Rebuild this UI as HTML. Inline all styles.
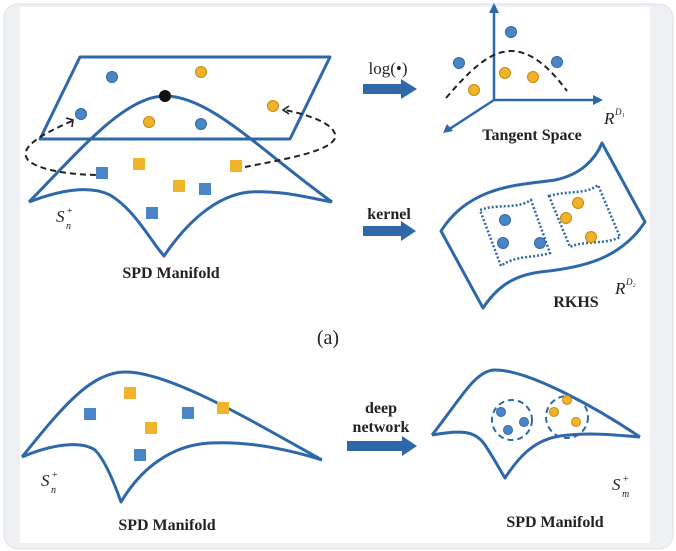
<!DOCTYPE html>
<html><head><meta charset="utf-8"><style>
html,body{margin:0;padding:0;background:#fff;}
svg{display:block;}
text{font-family:"Liberation Serif",serif;fill:#222;}
.b{font-weight:bold;font-size:16px;}
</style></head><body>
<svg width="676" height="551" viewBox="0 0 676 551" xmlns="http://www.w3.org/2000/svg">
<rect x="4" y="4" width="669" height="545" rx="14" fill="#eef0f3" stroke="#dfe2e6"/>
<rect x="20" y="7" width="630" height="536" fill="#fff"/>
<g fill="none" stroke="#2f68a8" stroke-width="3" stroke-linejoin="round">
<path d="M80,57 L330,57 L290,139 L40,139 Z"/>
<path d="M29,202 C80,150 125,96 165,96 C210,96 260,150 332,202"/>
<path d="M29,202 C60,190 90,185 110,195 C135,210 150,240 164,256 C185,225 215,195 250,192 C280,190 310,198 332,202"/>
<path d="M494,100 L494,10 M494,100 L598,100 M494,100 L448,130" stroke-width="2.5"/>
<path d="M441,231 C470,185 520,185 555,180 C580,175 595,160 602,143 L645,222 C620,260 580,268 540,272 C510,276 495,290 483,308 Z"/>
<path d="M22,457 C60,410 90,372 125,372 C170,372 250,420 322,460"/>
<path d="M22,457 C50,445 80,440 95,450 C105,460 115,485 121,502 C140,470 170,445 210,443 C250,441 290,450 322,460"/>
<path d="M432,435 C460,400 475,370 495,370 C530,370 600,410 640,437"/>
<path d="M432,435 C460,430 475,430 485,445 C495,460 500,470 505,478 C520,455 535,440 560,436 C590,432 615,435 640,437"/>
</g>
<g fill="#2f68a8">
<path d="M494,3 L489,13 L499,13 Z"/>
<path d="M603,100 L593,95 L593,105 Z"/>
<path d="M443,133 L447,124 L453,131 Z"/>
<path d="M363,84 L401,84 L401,79 L417,89 L401,99 L401,94 L363,94 Z"/>
<path d="M363,226 L401,226 L401,221 L416,231 L401,241 L401,236 L363,236 Z"/>
<path d="M347,441 L402,441 L402,436 L417,446 L402,456 L402,451 L347,451 Z"/>
</g>
<g fill="none" stroke="#222" stroke-width="2" stroke-dasharray="6,4">
<path d="M72,121 C40,135 18,148 28,160 C40,172 80,175 100,175"/>
<path d="M245,167 C280,160 330,152 335,138 C338,125 310,115 285,110"/>
<path d="M446,98 C470,70 490,51 511,51 C535,51 555,75 567,91"/>
</g>
<g fill="none" stroke="#222" stroke-width="1.6">
<path d="M66,118 L73,120 L72,127"/>
<path d="M289,106 L283,110 L289,114"/>
</g>
<g fill="none" stroke="#2f68a8" stroke-width="2.5" stroke-dasharray="2,2">
<path d="M480,210 C500,203 515,210 531,200 L550,253 C535,258 515,255 501,266 Z"/>
<path d="M549,196 C570,190 585,195 598,185 L620,237 C605,245 585,240 570,247 Z"/>
</g>
<g fill="none" stroke="#2f68a8" stroke-width="2" stroke-dasharray="6,4">
<circle cx="512" cy="420" r="20"/>
<circle cx="567" cy="417" r="21"/>
</g>
<g fill="#4a86c5" stroke="#2f68a8" stroke-width="1">
<circle cx="112" cy="77" r="5.5"/><circle cx="81" cy="114" r="5.5"/><circle cx="201" cy="124" r="5.5"/>
<circle cx="511" cy="32" r="5.5"/><circle cx="459" cy="63" r="5.5"/><circle cx="557" cy="62" r="5.5"/>
<circle cx="505" cy="220" r="5.5"/><circle cx="503" cy="243" r="5.5"/><circle cx="540" cy="243" r="5.5"/>
<circle cx="501" cy="412" r="4.5"/><circle cx="524" cy="422" r="4.5"/><circle cx="508" cy="430" r="4.5"/>
</g>
<g fill="#f0b32a" stroke="#c48a10" stroke-width="1">
<circle cx="201" cy="72" r="5.5"/><circle cx="149" cy="122" r="5.5"/><circle cx="273" cy="106" r="5.5"/>
<circle cx="505" cy="73" r="5.5"/><circle cx="533" cy="77" r="5.5"/><circle cx="474" cy="90" r="5.5"/>
<circle cx="578" cy="203" r="5.5"/><circle cx="566" cy="218" r="5.5"/><circle cx="591" cy="237" r="5.5"/>
<circle cx="567" cy="400" r="4.5"/><circle cx="554" cy="412" r="4.5"/><circle cx="576" cy="422" r="4.5"/>
</g>
<circle cx="165" cy="96" r="6" fill="#111"/>
<g fill="#4a86c5">
<rect x="96" y="167" width="12" height="12"/><rect x="199" y="183" width="12" height="12"/><rect x="146" y="207" width="12" height="12"/>
<rect x="84" y="408" width="12" height="12"/><rect x="182" y="407" width="12" height="12"/><rect x="134" y="449" width="12" height="12"/>
</g>
<g fill="#f0b32a">
<rect x="133" y="158" width="12" height="12"/><rect x="173" y="180" width="12" height="12"/><rect x="230" y="160" width="12" height="12"/>
<rect x="124" y="387" width="12" height="12"/><rect x="217" y="402" width="12" height="12"/><rect x="145" y="422" width="12" height="12"/>
</g>
<text x="56" y="222" font-size="17" font-style="italic">S</text><text x="67" y="214" font-size="10">+</text><text x="66" y="229" font-size="10" font-style="italic">n</text>
<text x="171" y="278" class="b" text-anchor="middle">SPD Manifold</text>
<text x="388" y="74" font-size="17" text-anchor="middle">log(•)</text>
<text x="604" y="124" font-size="17" font-style="italic">R</text><text x="615" y="115" font-size="9" font-style="italic">D₁</text>
<text x="532" y="140" class="b" text-anchor="middle">Tangent Space</text>
<text x="389" y="219" class="b" text-anchor="middle">kernel</text>
<text x="615" y="294" font-size="17" font-style="italic">R</text><text x="626" y="285" font-size="9" font-style="italic">D₂</text>
<text x="576" y="307" class="b" text-anchor="middle">RKHS</text>
<text x="328" y="344" font-size="20" text-anchor="middle">(a)</text>
<text x="41" y="486" font-size="17" font-style="italic">S</text><text x="52" y="478" font-size="10">+</text><text x="51" y="493" font-size="10" font-style="italic">n</text>
<text x="167" y="530" class="b" text-anchor="middle">SPD Manifold</text>
<text x="381" y="413" class="b" text-anchor="middle">deep</text>
<text x="381" y="432" class="b" text-anchor="middle">network</text>
<text x="612" y="490" font-size="17" font-style="italic">S</text><text x="623" y="482" font-size="10">+</text><text x="622" y="497" font-size="10" font-style="italic">m</text>
<text x="555" y="527" class="b" text-anchor="middle">SPD Manifold</text>
</svg>
</body></html>
